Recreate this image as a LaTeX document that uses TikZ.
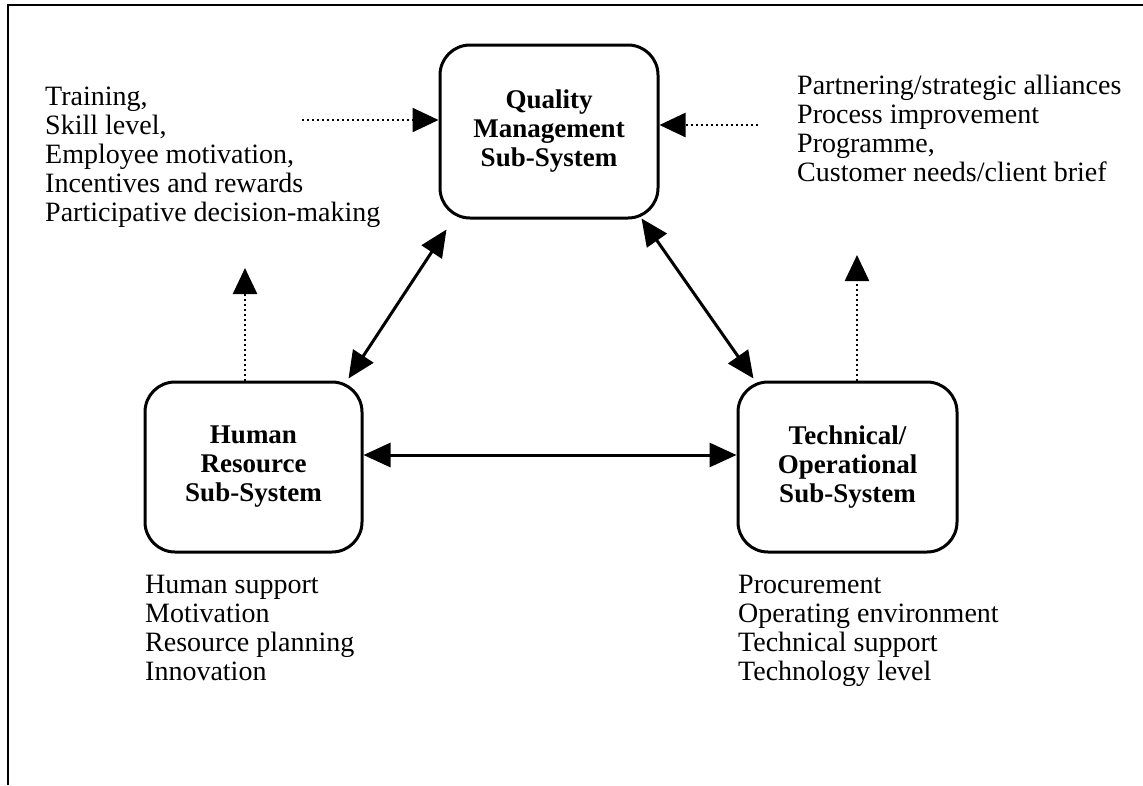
\documentclass[tikz,border=0pt]{standalone}
\usepackage{fontspec}
\setmainfont{Liberation Serif}
\usetikzlibrary{arrows.meta}
\begin{document}
\begin{tikzpicture}[x=1pt,y=-1pt,
  sysbox/.style={draw, line width=3pt, rounded corners=30pt, inner sep=0pt, align=center,
    font=\fontsize{27}{29}\selectfont\bfseries},
  listtext/.style={anchor=north west, inner sep=0pt, align=left, font=\fontsize{28}{29}\selectfont},
  biarrow/.style={line width=3pt, {Triangle[length=27pt,width=24pt]}-{Triangle[length=27pt,width=24pt]}},
  dotarrow/.style={line width=2.5pt, dash pattern=on 2pt off 3pt, -{Triangle[length=26pt,width=24pt]}}
]
\useasboundingbox (0,0) rectangle (1143,785);
% frame
\draw[line width=2.5pt] (8,785) -- (8,5) -- (1143,5);

% boxes
\node[sysbox, minimum width=218pt, minimum height=173pt] (qm) at (549,131.5) {Quality\\Management\\Sub-System};
\node[sysbox, minimum width=217pt, minimum height=170pt] (hr) at (253.5,467) {Human\\Resource\\Sub-System};
\node[sysbox, minimum width=219pt, minimum height=170pt] (to) at (847.5,467) {Technical/\\Operational\\Sub-System};

% texts
\node[listtext] (tl) at (45,87) {Training,\\Skill level,\\Employee motivation,\\Incentives and rewards\\Participative decision-making};
\node[listtext] (tr) at (797,75) {Partnering/strategic alliances\\Process improvement\\Programme,\\Customer needs/client brief};
\node[listtext] (bl) at (145,575) {Human support\\Motivation\\Resource planning\\Innovation};
\node[listtext] (br) at (738,575) {Procurement\\Operating environment\\Technical support\\Technology level};

% solid arrows
\draw[biarrow] ([shift={(8,10)}]qm.south west) -- ([shift={(-15,-2)}]hr.north east);
\draw[biarrow] ([shift={(-18,-1)}]qm.south east) -- ([shift={(17,-2)}]to.north west);
\draw[biarrow] ([yshift=12pt]hr.east) -- ([yshift=12pt]to.west);

% dotted arrows
\coordinate (dl) at (302,120);
\coordinate (dr) at (758,125);
\coordinate (ul) at (245,268);
\coordinate (ur) at (857,255);
\draw[dotarrow] (dl) -- ([yshift=11.5pt]qm.west);
\draw[dotarrow] (dr) -- ([yshift=6.5pt]qm.east);
\draw[dotarrow] ([xshift=-8.5pt]hr.north) -- (ul);
\draw[dotarrow] ([xshift=9.5pt]to.north) -- (ur);
\end{tikzpicture}
\end{document}
